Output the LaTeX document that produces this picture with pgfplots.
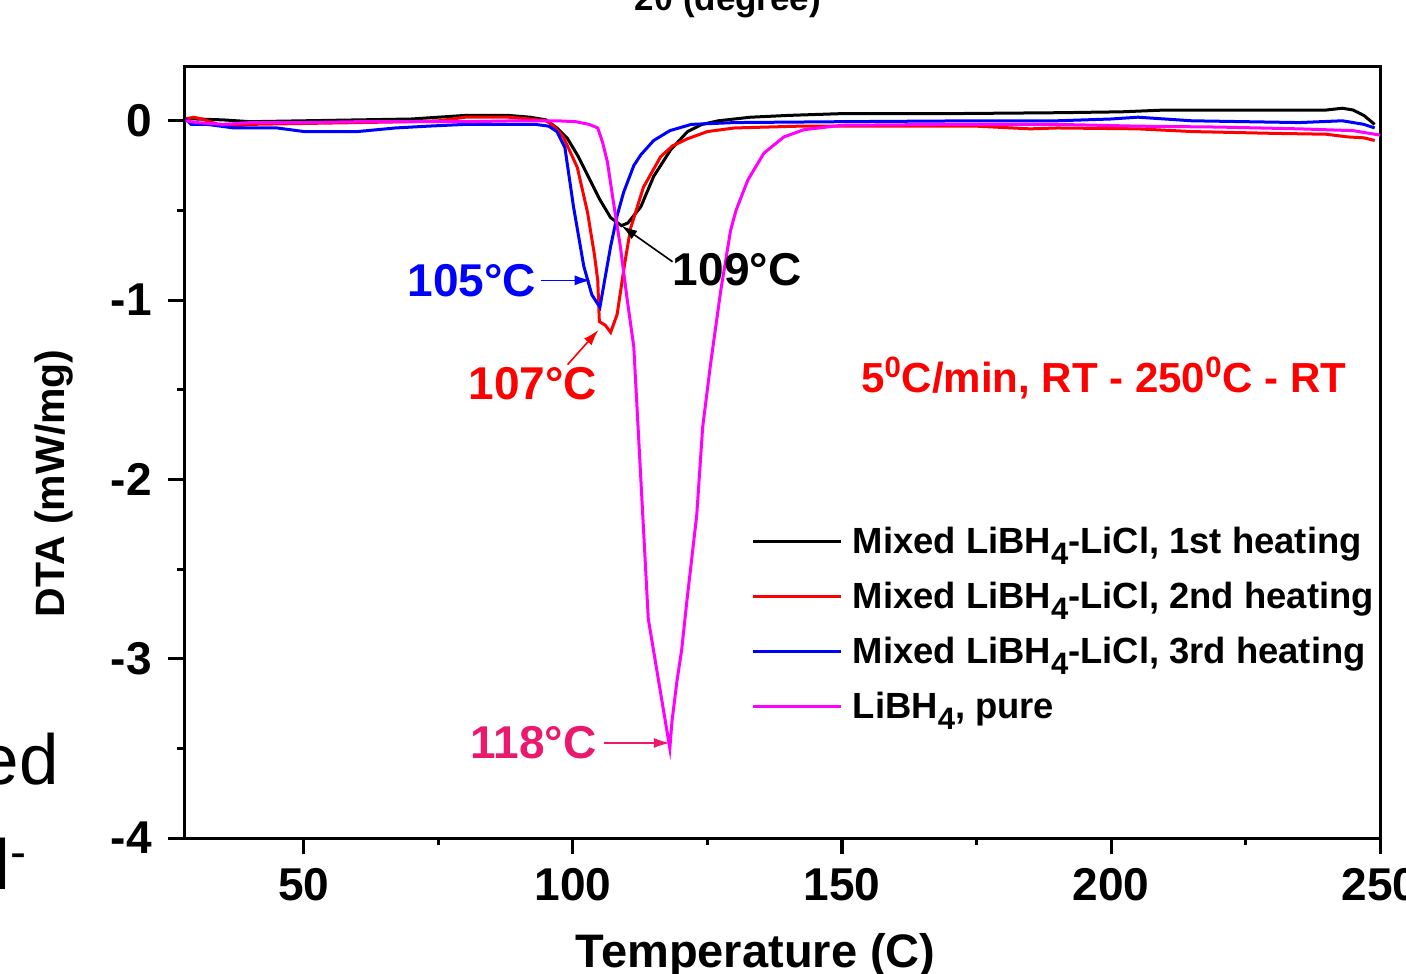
\documentclass[border=0pt]{standalone}
\usepackage{fontspec}
\setmainfont{Liberation Sans}
\usepackage{pgfplots}
\pgfplotsset{compat=1.18}
\usetikzlibrary{arrows.meta}

\definecolor{annopink}{RGB}{235,25,110}
\definecolor{puremag}{RGB}{255,0,255}
\definecolor{pureblue}{RGB}{0,0,255}
\definecolor{purered}{RGB}{255,0,0}
\newcommand{\sub}[1]{\raisebox{-0.3em}{\fontsize{15.5}{15.5}\selectfont #1}}

\begin{document}
\begin{tikzpicture}
\useasboundingbox (0pt,0pt) rectangle (703pt,486.5pt);
\clip (0pt,0pt) rectangle (703pt,486.5pt);

% fragments of the surrounding page
\node[anchor=base, inner sep=0pt, font=\fontsize{17.5}{20}\selectfont\bfseries] at (364pt,481pt) {2θ (degree)};
\node[anchor=base east, inner sep=0pt, font=\fontsize{35.5}{40}\selectfont] at (29.5pt,94pt) {Mixed};
\node[anchor=base east, inner sep=0pt, font=\fontsize{35.5}{40}\selectfont] at (13.5pt,41.5pt) {LiCl\raisebox{0.3em}{\fontsize{24}{24}\selectfont -}};

\begin{axis}[
  at={(92pt,67.5pt)}, anchor=south west,
  scale only axis, width=598pt, height=385.5pt,
  xmin=27.7, xmax=250, ymin=-4, ymax=0.3,
  axis line style={line width=1.5pt},
  every tick/.style={black, line width=1.5pt},
  tick align=outside,
  xtick pos=bottom, ytick pos=left,
  xtick={50,100,150,200,250}, xticklabels={50,100,150,200,250},
  minor xtick={75,125,175,225},
  ytick={-4,-3,-2,-1,0}, yticklabels={-4,-3,-2,-1,0},
  minor ytick={-3.5,-2.5,-1.5,-0.5},
  major tick length=8pt, minor tick length=3.5pt,
  ticklabel style={font=\fontsize{23}{23}\selectfont\bfseries, inner sep=0pt},
  xticklabel style={anchor=north, yshift=-7pt},
  yticklabel style={anchor=east, xshift=-8pt},
  xlabel={Temperature (C)},
  xlabel style={at={(axis description cs:0.478,-0.1686)}, anchor=base, inner sep=0pt,
                font=\fontsize{23.5}{24}\selectfont\bfseries},
  ylabel={DTA (mW/mg)},
  ylabel style={at={(axis description cs:-0.0995,0.46)}, anchor=base, inner sep=0pt,
                font=\fontsize{20.5}{21}\selectfont\bfseries},
  legend cell align=left,
  legend image code/.code={\draw[#1, line width=1.5pt] (0pt,0pt) -- (44pt,0pt);},
  legend style={draw=none, fill=none, inner sep=0pt, outer sep=0pt,
                at={(0.4749,0.4073)}, anchor=north west,
                font=\fontsize{18.2}{20}\selectfont\bfseries,
                row sep=9.5pt,
                nodes={inner sep=0pt, text height=15pt, text depth=3pt},
                /tikz/every odd column/.style={column sep=5pt}},
  every axis plot/.append style={line width=1.5pt},
]

% 1st heating
\addplot[black] coordinates {
(28,0.01) (30,0.01) (35,0.005) (40,-0.005) (50,0.0) (60,0.005) (70,0.01) (75,0.02)
(80,0.03) (88,0.03) (92,0.02) (95,0.005) (97,-0.04) (99,-0.10) (101,-0.20) (103,-0.32)
(105,-0.44) (107,-0.54) (109,-0.585) (110.2,-0.57) (112.6,-0.48) (115,-0.31) (118.2,-0.16)
(121.3,-0.06) (124,-0.02) (127,0.0) (133,0.02) (140,0.03) (150,0.04) (170,0.04)
(190,0.045) (202,0.05) (210,0.06) (230,0.06) (240,0.06) (243,0.07) (245,0.06)
(247,0.03) (249,-0.02)};
\addlegendentry{Mixed LiBH\sub{4}-LiCl, 1st heating}

% 2nd heating
\addplot[purered] coordinates {
(28,0.01) (29.5,0.02) (31,0.01) (34,-0.02) (37,-0.03) (40,-0.02) (50,-0.015) (60,-0.01)
(70,-0.005) (75,0.0) (80,0.02) (88,0.02) (92,0.01) (95,0.0) (96.5,-0.03) (98.2,-0.09)
(100.8,-0.26) (102.7,-0.51) (104,-0.75) (104.6,-0.89) (104.9,-1.12) (106,-1.14)
(107,-1.18) (108.2,-1.08) (109.7,-0.78) (110.7,-0.60) (113.1,-0.37) (116.3,-0.20)
(118.5,-0.14) (121.3,-0.10) (125,-0.06) (130,-0.04) (142,-0.03) (160,-0.03) (175,-0.03)
(185,-0.045) (190,-0.04) (205,-0.045) (215,-0.06) (230,-0.07) (240,-0.075) (244,-0.09)
(247,-0.095) (249,-0.11)};
\addlegendentry{Mixed LiBH\sub{4}-LiCl, 2nd heating}

% 3rd heating
\addplot[pureblue] coordinates {
(28,0.01) (29,-0.02) (32,-0.02) (37,-0.04) (45,-0.04) (50,-0.06) (60,-0.06) (67,-0.04)
(73,-0.03) (80,-0.02) (93,-0.02) (95.5,-0.03) (97,-0.06) (98.5,-0.15) (100.1,-0.48)
(102,-0.81) (103.5,-0.97) (105,-1.04) (106,-0.87) (107,-0.70) (108.2,-0.53) (109.4,-0.40)
(111.3,-0.25) (112.6,-0.19) (115,-0.11) (118,-0.055) (122,-0.02) (130,-0.01) (150,-0.005)
(175,0.0) (190,0.0) (200,0.01) (205,0.02) (215,0.0) (235,-0.01) (243,0.0) (247,-0.02)
(249,-0.04)};
\addlegendentry{Mixed LiBH\sub{4}-LiCl, 3rd heating}

% pure LiBH4
\addplot[puremag] coordinates {
(28,0.0) (30,-0.01) (35,-0.02) (40,-0.01) (50,-0.01) (60,-0.005) (70,-0.005) (80,-0.005)
(90,0.0) (97,0.0) (100.5,-0.005) (103,-0.02) (104.6,-0.04) (105.5,-0.12) (106.4,-0.23)
(107.5,-0.45) (108.8,-0.70) (110,-0.98) (111.3,-1.26) (114,-2.78) (118,-3.50)
(118.4,-3.35) (119.3,-3.13) (120.2,-2.95) (121.2,-2.67) (123,-2.2) (124.1,-1.71)
(125.6,-1.35) (127.5,-0.94) (129.3,-0.61) (130.3,-0.50) (132.5,-0.33) (135.5,-0.18)
(139.2,-0.09) (142.9,-0.05) (150,-0.025) (170,-0.02) (190,-0.02) (205,-0.03)
(220,-0.035) (235,-0.045) (245,-0.055) (250,-0.08)};
\addlegendentry{LiBH\sub{4}, pure}

% peak annotations
\node[anchor=base west, inner sep=0pt, text=pureblue, font=\fontsize{23}{24}\selectfont\bfseries]
  at (axis cs:69.2,-0.98) {105°C};
\draw[pureblue, line width=0.8pt, -{Latex[length=8pt,width=5pt]}]
  (axis cs:94,-0.89) -- (axis cs:103.3,-0.89);

\node[anchor=base west, inner sep=0pt, text=purered, font=\fontsize{23}{24}\selectfont\bfseries]
  at (axis cs:80.5,-1.556) {107°C};
\draw[purered, line width=0.8pt, -{Latex[length=8pt,width=5pt]}]
  (axis cs:99,-1.36) -- (axis cs:104.75,-1.166);

\node[anchor=base west, inner sep=0pt, text=black, font=\fontsize{23}{24}\selectfont\bfseries]
  at (axis cs:118.5,-0.92) {109°C};
\draw[black, line width=0.8pt, -{Latex[length=8pt,width=5pt]}]
  (axis cs:118.5,-0.786) -- (axis cs:109,-0.585);

\node[anchor=base west, inner sep=0pt, text=annopink, font=\fontsize{23}{24}\selectfont\bfseries]
  at (axis cs:80.9,-3.558) {118°C};
\draw[annopink, line width=0.8pt, -{Latex[length=8pt,width=5pt]}]
  (axis cs:105.7,-3.47) -- (axis cs:118,-3.47);

\node[anchor=base west, inner sep=0pt, text=purered, font=\fontsize{21}{22}\selectfont\bfseries]
  at (axis cs:153.5,-1.517) {5\textsuperscript{0}C/min, RT - 250\textsuperscript{0}C - RT};
\end{axis}
\end{tikzpicture}
\end{document}
